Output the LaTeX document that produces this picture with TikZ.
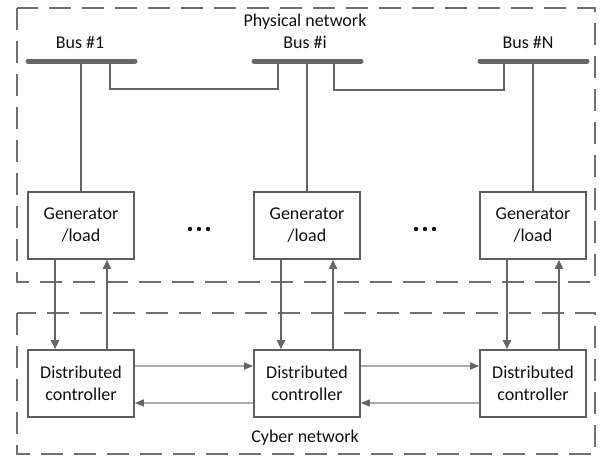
\documentclass[tikz,border=0pt]{standalone}
\usepackage{fontspec}
\setmainfont{Carlito}
\usetikzlibrary{arrows.meta}
\definecolor{linec}{HTML}{666666}
\definecolor{boxc}{HTML}{5E5E5E}
\definecolor{dashc}{HTML}{707070}
\definecolor{lightc}{HTML}{ABABAB}
\definecolor{txt}{HTML}{111111}
\begin{document}
\begin{tikzpicture}[x=1pt,y=-1pt,
  box/.style={draw=boxc,line width=1.6pt,fill=white,minimum width=106pt,minimum height=67pt,
    align=center,inner sep=0pt,text=txt,font=\fontsize{18}{22}\selectfont},
  lbl/.style={text=txt,inner sep=0pt,font=\fontsize{18}{22}\selectfont},
  netbox/.style={draw=dashc,line width=2.8pt,dash pattern=on 22pt off 11pt},
  busbar/.style={draw=linec,line width=5pt,line cap=round},
  wire/.style={draw=linec,line width=1.6pt},
  arr/.style={draw=linec,line width=1.8pt,-{Triangle[length=9pt,width=8pt]}},
  harr/.style={draw=lightc,line width=1.3pt,-{Triangle[length=9pt,width=7pt,color=linec]}},
  dot/.style={fill=txt,draw=none}]
\useasboundingbox (0,0) rectangle (605,456);
% network frames
\draw[netbox] (17,8) rectangle (595,282);
\draw[netbox] (17,313) rectangle (595,454);
% labels
\node[lbl] (phys) at (305,22) {Physical network};
\node[lbl] (cyber) at (305,438) {Cyber network};
\node[lbl] (b1l) at (80,42) {Bus \#1};
\node[lbl] (bil) at (305,42) {Bus \#i};
\node[lbl] (bnl) at (528,42) {Bus \#N};
% bus bar coordinates
\coordinate (b1a) at (28,61); \coordinate (b1b) at (135,61);
\coordinate (bia) at (254,61); \coordinate (bib) at (361,61);
\coordinate (bna) at (480,61); \coordinate (bnb) at (587,61);
\draw[busbar] (b1a) -- (b1b);
\draw[busbar] (bia) -- (bib);
\draw[busbar] (bna) -- (bnb);
% generator boxes
\node[box] (g1) at (81,225.5) {Generator\\/load};
\node[box] (g2) at (307,225.5) {Generator\\/load};
\node[box] (g3) at (533,225.5) {Generator\\/load};
% controllers
\node[box] (c1) at (81,383.5) {Distributed\\controller};
\node[box] (c2) at (307,383.5) {Distributed\\controller};
\node[box] (c3) at (533,383.5) {Distributed\\controller};
% bus-to-generator wires
\draw[wire] (g1.north |- b1a) -- (g1.north);
\draw[wire] (g2.north |- bia) -- (g2.north);
\draw[wire] (g3.north |- bna) -- (g3.north);
% lines between buses
\coordinate (l1a) at (110,61); \coordinate (l1b) at (278,61);
\coordinate (l2a) at (334,61); \coordinate (l2b) at (504,61);
\draw[wire] (l1a) -- (110,89) -- (278,89) -- (l1b);
\draw[wire] (l2a) -- (334,90) -- (504,90) -- (l2b);
% dots
\foreach \cx in {190,199,208} {\fill[dot] (\cx,229) circle (2.2pt);}
\foreach \cx in {416,425,434} {\fill[dot] (\cx,229) circle (2.2pt);}
% vertical arrows
\foreach \i in {1,2,3} {
  \draw[arr] ([xshift=-26pt]g\i.south) -- ([xshift=-26pt]c\i.north);
  \draw[arr] ([xshift=26pt]c\i.north) -- ([xshift=26pt]g\i.south);
}
% horizontal arrows
\draw[harr] ([yshift=17.5pt]c1.east) -- ([yshift=17.5pt]c2.west);
\draw[harr] ([yshift=17.5pt]c2.east) -- ([yshift=17.5pt]c3.west);
\draw[harr] ([yshift=-19.5pt]c2.west) -- ([yshift=-19.5pt]c1.east);
\draw[harr] ([yshift=-19.5pt]c3.west) -- ([yshift=-19.5pt]c2.east);
\end{tikzpicture}
\end{document}
